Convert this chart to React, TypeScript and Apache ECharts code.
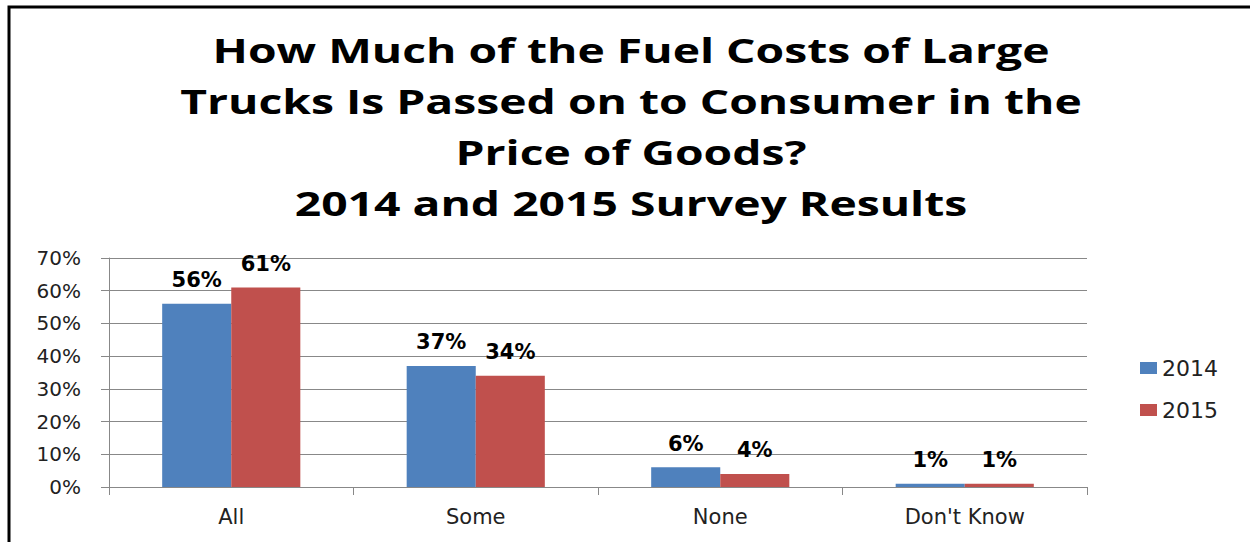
import React, { useEffect, useRef } from "react";
import * as echarts from "echarts";

const titleLines = [
  "How Much of the Fuel Costs of Large",
  "Trucks Is Passed on to Consumer in the",
  "Price of Goods?",
  "2014 and 2015 Survey Results",
];
const categories = ["All", "Some", "None", "Don't Know"];
const values2014 = [56, 37, 6, 1];
const values2015 = [61, 34, 4, 1];
const seriesNames = ["2014", "2015"];
const yTicks = [0, 10, 20, 30, 40, 50, 60, 70];

const TITLE_FONT = "bold 34px 'Open Sans'";

export default function App() {
  const ref = useRef<HTMLDivElement>(null);
  useEffect(() => {
    if (!ref.current) return;
    const chart = echarts.init(ref.current, null, { renderer: "svg" });

    // horizontal stretch of the title, so its first line spans the same width as the reference
    let scaleX = 1.2;
    try {
      const c = document.createElement("canvas").getContext("2d");
      if (c) {
        c.font = TITLE_FONT;
        const w = c.measureText(titleLines[0]).width;
        if (w > 0) scaleX = 837 / w;
      }
    } catch (e) {}

    const titleCenters = [50, 101, 152, 203];
    const titleGraphics = titleLines.map((t, i) => ({
      type: "text",
      x: 631,
      y: titleCenters[i],
      scaleX,
      silent: true,
      style: {
        text: t,
        x: 0,
        y: 0,
        textAlign: "center",
        textVerticalAlign: "middle",
        font: TITLE_FONT,
        fill: "#000",
      },
    }));

    const labelStyle = {
      show: true,
      position: "top" as const,
      distance: 13,
      formatter: "{c}%",
      fontFamily: "DejaVu Sans",
      fontWeight: "bold" as const,
      fontSize: 21,
      color: "#000",
    };
    chart.setOption({
      animation: false,
      backgroundColor: "#fff",
      graphic: [
        {
          type: "rect",
          shape: { x: 9, y: 7, width: 1400, height: 700 },
          style: { fill: "none", stroke: "#000", lineWidth: 3 },
          silent: true,
        },
        ...titleGraphics,
      ],
      legend: {
        orient: "vertical",
        left: 1135,
        top: 352,
        itemWidth: 17,
        itemHeight: 12,
        itemGap: 20,
        icon: "rect",
        textStyle: { fontFamily: "DejaVu Sans", fontSize: 22, color: "#222" },
        data: seriesNames,
      },
      grid: { left: 109, top: 258, width: 978, height: 229 },
      xAxis: {
        type: "category",
        data: categories,
        axisLine: { lineStyle: { color: "#888", width: 1 } },
        axisTick: { show: true, length: 8, lineStyle: { color: "#888" } },
        axisLabel: {
          fontFamily: "DejaVu Sans",
          fontSize: 21,
          color: "#222",
          margin: 19,
        },
      },
      yAxis: {
        type: "value",
        min: 0,
        max: 70,
        interval: 10,
        axisLine: { show: true, lineStyle: { color: "#888", width: 1 } },
        axisTick: { show: true, length: 8, lineStyle: { color: "#888" } },
        splitLine: { lineStyle: { color: "#888", width: 1 } },
        axisLabel: {
          fontFamily: "DejaVu Sans",
          fontSize: 20,
          color: "#222",
          margin: 28,
          formatter: (v: number) => (yTicks.includes(v) ? v + "%" : ""),
        },
      },
      series: [
        {
          name: seriesNames[0],
          type: "bar",
          data: values2014,
          barGap: "0%",
          barCategoryGap: "43.5%",
          itemStyle: { color: "#4F81BD" },
          label: labelStyle,
        },
        {
          name: seriesNames[1],
          type: "bar",
          data: values2015,
          barGap: "0%",
          barCategoryGap: "43.5%",
          itemStyle: { color: "#C0504D" },
          label: labelStyle,
        },
      ],
    });
    return () => chart.dispose();
  }, []);
  return (
    <div
      ref={ref}
      style={{ position: "absolute", left: 0, top: 0, width: 1250, height: 542 }}
    />
  );
}
